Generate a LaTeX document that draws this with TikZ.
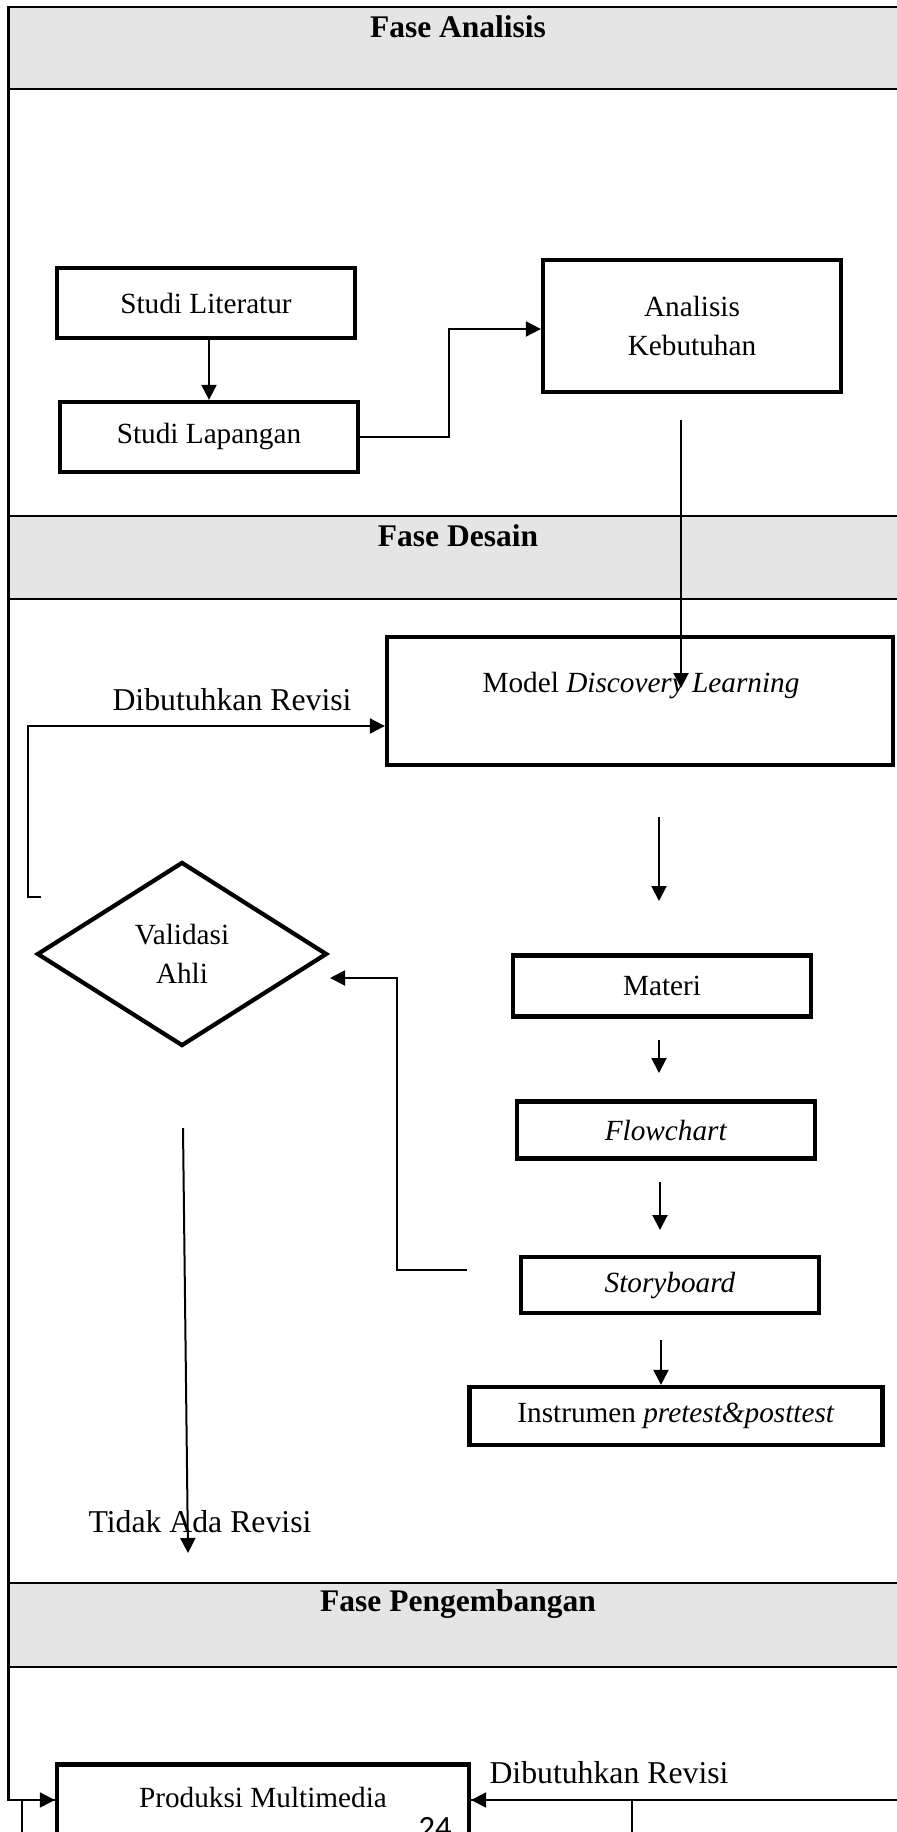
\documentclass[tikz,border=0pt]{standalone}
\usepackage{fontspec}
\setmainfont{Liberation Serif}
\newfontfamily\pagefont{Carlito}
\usetikzlibrary{arrows.meta, shapes.geometric}

\begin{document}
\begin{tikzpicture}[
  x=0.4pt, y=-0.4pt,
  font=\fontsize{11.7}{15.5}\selectfont,
  box/.style={draw, line width=1.7pt, fill=white, align=center, inner sep=0pt, minimum width=119.2pt, minimum height=28pt},
  decision/.style={draw, diamond, line width=1.7pt, fill=white, align=center, inner sep=0pt, minimum width=116pt, minimum height=73.6pt},
  band/.style={fill=black!10},
  rule/.style={line width=1pt},
  phase/.style={font=\fontsize{12.6}{15}\selectfont\bfseries},
  note/.style={font=\fontsize{12.7}{15}\selectfont},
  arr/.style={-{Triangle[length=6pt, width=6pt]}, line width=0.8pt},
  link/.style={line width=0.8pt}
]
\useasboundingbox (0,0) rectangle (897,1832);
\clip (0,0) rectangle (897,1832);

% phase bands and table rules
\path[band] (8.6,7) rectangle (897,89);
\path[band] (8.6,516) rectangle (897,599);
\path[band] (8.6,1583) rectangle (897,1667);
\draw[rule] (897,7) -- (8.6,7) -- (8.6,1800) -- (897,1800);
\foreach \y in {89,516,599,1583,1667}
  \draw[rule] (8.6,\y) -- (897,\y);
\draw[rule] (22,1800) -- (22,1840);
\draw[rule] (632,1800) -- (632,1840);

\node[phase] (fa) at (458,27) {Fase Analisis};
\node[phase] (fd) at (458,536) {Fase Desain};
\node[phase] (fp) at (458,1604) {Fase Pengembangan};

% boxes
\node[box] (lit) at (206,303) {Studi Literatur};
\node[box] (lap) at (209,437) {Studi Lapangan};
\node[box, minimum height=52.8pt] (ana) at (692,326) {Analisis\\Kebutuhan};
\node[box, minimum width=202.4pt, minimum height=51.2pt] (model) at (640,701) {};
\node (model-text) at (641,686) {Model \textit{Discovery Learning}};
\node[decision] (val) at (182,954) {Validasi\\Ahli};
\node[box, minimum height=24.4pt] (mat) at (662,986) {Materi};
\node[box, minimum height=22.8pt] (flow) at (666,1130) {\textit{Flowchart}};
\node[box, minimum height=22.4pt] (story) at (670,1285) {\textit{Storyboard}};
\node[box, minimum width=165.2pt, minimum height=23.2pt] (inst) at (676,1416) {Instrumen \textit{pretest\&posttest}};
\node[box, minimum width=164.8pt, minimum height=30pt, text depth=3.4pt] (prod) at (263,1802) {Produksi Multimedia};

% labels
\node[note] (rev1) at (232,700) {Dibutuhkan Revisi};
\node[note] (norev) at (200,1522) {Tidak Ada Revisi};
\node[note] (rev2) at (609,1773) {Dibutuhkan Revisi};
\node[font=\pagefont\fontsize{13}{15}\selectfont] (pg) at (435,1828) {24};

% free ends
\coordinate (ana-out) at (681,420);
\coordinate (mdl-in) at (681,688);
\coordinate (mdl-out) at (659,817);
\coordinate (mat-in) at (659,901);
\coordinate (mat-out) at (659,1040);
\coordinate (flow-in) at (659,1073);
\coordinate (flow-out) at (660,1182);
\coordinate (story-in) at (660,1230);
\coordinate (story-out) at (661,1340);
\coordinate (val-back) at (41,897);
\coordinate (story-back) at (467,1270);
\coordinate (val-in) at (330,978);
\coordinate (val-out) at (183,1128);
\coordinate (norev-end) at (188,1553);
\coordinate (left-end) at (8.6,1800);
\coordinate (right-end) at (897,1800);

% connectors
\draw[arr] (lap.north |- lit.south) -- (lap.north);
\draw[arr] (lap.east) -- (449,437) |- ([yshift=-1.2pt]ana.west);
\draw[arr] (ana-out) -- (mdl-in);
\draw[arr] (val-back) -- (28,897) |- ([yshift=-10pt]model.west);
\draw[arr] (mdl-out) -- (mat-in);
\draw[arr] (mat-out) -- (flow-in);
\draw[arr] (flow-out) -- (story-in);
\draw[arr] (story-out) -- (inst.north -| story-out);
\draw[arr] (story-back) -- (397,1270) |- (val-in);
\draw[arr] (val-out) -- (norev-end);
\draw[arr] (left-end) -- (prod.west |- left-end);
\draw[arr] (right-end) -- (prod.east |- right-end);
\end{tikzpicture}
\end{document}
